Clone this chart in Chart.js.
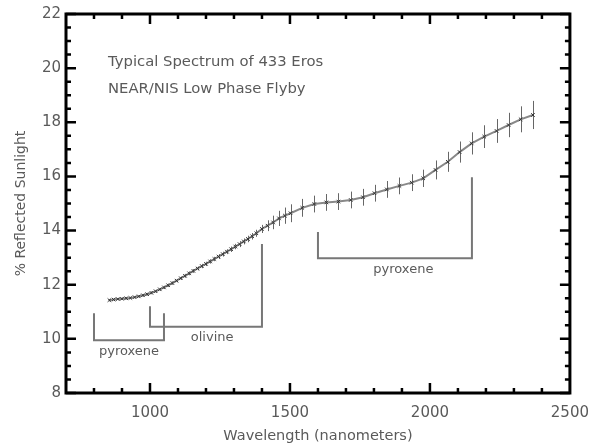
<!DOCTYPE html>
<html>
<head>
<meta charset="utf-8">
<script src="https://cdn.jsdelivr.net/npm/chart.js@4"></script>
<style>
  body { margin: 0; background: #fff; }
  #wrap { width: 600px; height: 445px; }
</style>
</head>
<body>
<div id="wrap"><canvas id="chartSpectrum" width="600" height="445"></canvas></div>
<script>
// Eros spectrum
var wavelengths = [855, 870, 885, 900, 915, 930, 945, 960, 975, 990,
  1005, 1020, 1035, 1050, 1065, 1080, 1095, 1110, 1125, 1140,
  1155, 1170, 1185, 1200, 1215, 1230, 1245, 1260, 1275, 1290,
  1305, 1320, 1335, 1350, 1365, 1380, 1400, 1420, 1440, 1461,
  1482, 1502, 1544, 1587, 1630, 1673, 1717, 1761, 1802, 1846,
  1891, 1935, 1976, 2020, 2064, 2106, 2149, 2194, 2238, 2281,
  2324, 2368]
var reflectance = [11.43, 11.45, 11.47, 11.48, 11.50, 11.51, 11.54, 11.57, 11.61, 11.65,
  11.70, 11.76, 11.83, 11.90, 11.98, 12.06, 12.15, 12.24, 12.33, 12.42,
  12.51, 12.60, 12.69, 12.77, 12.86, 12.95, 13.04, 13.13, 13.22, 13.31,
  13.41, 13.50, 13.60, 13.69, 13.79, 13.90, 14.06, 14.18, 14.30, 14.45,
  14.55, 14.64, 14.84, 14.98, 15.04, 15.07, 15.13, 15.23, 15.38, 15.52,
  15.65, 15.77, 15.93, 16.24, 16.54, 16.90, 17.22, 17.47, 17.68, 17.90,
  18.11, 18.27]
var errors = [0.04, 0.04, 0.04, 0.04, 0.04, 0.04, 0.04, 0.04, 0.05, 0.05,
  0.05, 0.05, 0.05, 0.06, 0.06, 0.06, 0.06, 0.06, 0.07, 0.07,
  0.07, 0.07, 0.08, 0.08, 0.08, 0.08, 0.09, 0.09, 0.09, 0.10,
  0.10, 0.11, 0.11, 0.12, 0.12, 0.13, 0.15, 0.20, 0.25, 0.28,
  0.30, 0.33, 0.33, 0.31, 0.31, 0.31, 0.31, 0.31, 0.31, 0.31,
  0.31, 0.31, 0.32, 0.35, 0.37, 0.39, 0.41, 0.42, 0.44, 0.45,
  0.48, 0.52]

var xTickValues = [1000, 1500, 2000, 2500]
var yTickValues = [8, 10, 12, 14, 16, 18, 20, 22]

var titleLines = ['Typical Spectrum of 433 Eros', 'NEAR/NIS Low Phase Flyby']

// mineral absorption brackets
var bracketNames = ['pyroxene', 'olivine', 'pyroxene']
var bracketFrom = [800, 1000, 1600]
var bracketTo = [1050, 1400, 2150]
var bracketFromTop = [10.95, 11.2, 13.95]
var bracketToTop = [10.95, 13.5, 15.97]
var bracketBase = [9.95, 10.45, 12.98]
var bracketLabelAt = [925, 1222, 1905]

var points = wavelengths.map(function (w, i) { return { x: w, y: reflectance[i] } })

var textGray = '#5a5a5a'
var font = 'DejaVu Sans'

var errorBars = {
  id: 'errorBars',
  beforeDatasetsDraw: function (chart) {
    var ctx = chart.ctx, x = chart.scales.x, y = chart.scales.y
    ctx.save()
    ctx.strokeStyle = '#666'
    ctx.lineWidth = 1
    ctx.beginPath()
    wavelengths.forEach(function (w, i) {
      var px = Math.round(x.getPixelForValue(w)) + 0.5
      ctx.moveTo(px, y.getPixelForValue(reflectance[i] - errors[i]))
      ctx.lineTo(px, y.getPixelForValue(reflectance[i] + errors[i]))
    })
    ctx.stroke()
    ctx.restore()
  }
}

var annotations = {
  id: 'annotations',
  afterDraw: function (chart) {
    var ctx = chart.ctx, x = chart.scales.x, y = chart.scales.y
    ctx.save()
    // brackets
    ctx.strokeStyle = '#777'
    ctx.lineWidth = 2
    bracketNames.forEach(function (name, i) {
      var x1 = x.getPixelForValue(bracketFrom[i]), x2 = x.getPixelForValue(bracketTo[i])
      var yb = y.getPixelForValue(bracketBase[i])
      ctx.beginPath()
      ctx.moveTo(x1, y.getPixelForValue(bracketFromTop[i]))
      ctx.lineTo(x1, yb)
      ctx.lineTo(x2, yb)
      ctx.lineTo(x2, y.getPixelForValue(bracketToTop[i]))
      ctx.stroke()
      ctx.fillStyle = textGray
      ctx.font = '13px "' + font + '"'
      ctx.textAlign = 'center'
      ctx.textBaseline = 'middle'
      ctx.fillText(name, x.getPixelForValue(bracketLabelAt[i]), yb + 11)
    })
    // title inside the plot
    ctx.fillStyle = textGray
    ctx.font = '14.8px "' + font + '"'
    ctx.textAlign = 'left'
    ctx.textBaseline = 'middle'
    titleLines.forEach(function (line, i) {
      ctx.fillText(line, chart.chartArea.left + 42, chart.chartArea.top + 48 + i * 27)
    })

    // frame with inward ticks on all sides
    var a = chart.chartArea
    ctx.strokeStyle = '#000'
    ctx.lineWidth = 3
    ctx.strokeRect(a.left, a.top, a.right - a.left, a.bottom - a.top)
    ctx.lineWidth = 2.5
    ctx.beginPath()
    for (var v = y.min; v <= y.max + 1e-9; v += 0.5) {
      var py = y.getPixelForValue(v)
      var len = (Math.abs(v % 2) < 1e-9) ? 10 : 5
      ctx.moveTo(a.left, py); ctx.lineTo(a.left + len, py)
      ctx.moveTo(a.right, py); ctx.lineTo(a.right - len, py)
    }
    for (var w = 800; w < x.max; w += 100) {
      var px = x.getPixelForValue(w)
      var lx = (w % 500 === 0) ? 10 : 5
      ctx.moveTo(px, a.bottom); ctx.lineTo(px, a.bottom - lx)
      ctx.moveTo(px, a.top); ctx.lineTo(px, a.top + lx)
    }
    ctx.stroke()
    ctx.restore()
  }
}

var ctx = document.getElementById('chartSpectrum')

var chartSpectrum = new Chart(ctx, {
  type: 'line',
  data: {
    datasets: [{
      data: points,
      borderColor: '#888',
      borderWidth: 2,
      pointStyle: 'crossRot',
      pointRadius: 2.5,
      pointBorderColor: '#333',
      pointBorderWidth: 1,
      tension: 0
    }]
  },
  options: {
    responsive: false,
    animation: false,
    layout: { padding: { top: 14, right: 23, left: 0, bottom: 0 } },
    plugins: { legend: false, tooltip: { enabled: false } },
    scales: {
      x: {
        type: 'linear',
        min: 700,
        max: 2500,
        afterBuildTicks: function (scale) {
          scale.ticks = xTickValues.map(function (v) { return { value: v } })
        },
        afterFit: function (scale) { scale.height = 52 },
        grid: { display: false, drawTicks: false },
        border: { display: false },
        ticks: { color: textGray, font: { family: font, size: 15 }, padding: 11, maxRotation: 0,
          callback: function (v) { return String(v) } },
        title: { display: true, text: 'Wavelength (nanometers)', color: textGray,
          font: { family: font, size: 14.5 }, padding: { top: 0, bottom: 0 } }
      },
      y: {
        type: 'linear',
        min: 8,
        max: 22,
        afterBuildTicks: function (scale) {
          scale.ticks = yTickValues.map(function (v) { return { value: v } })
        },
        afterFit: function (scale) { scale.width = 66 },
        grid: { display: false, drawTicks: false },
        border: { display: false },
        ticks: { color: textGray, font: { family: font, size: 15 }, padding: 5,
          callback: function (v) { return String(v) } },
        title: { display: true, text: '% Reflected Sunlight', color: textGray,
          font: { family: font, size: 14 }, padding: { top: 13, bottom: 0 } }
      }
    }
  },
  plugins: [errorBars, annotations]
})
</script>
</body>
</html>
